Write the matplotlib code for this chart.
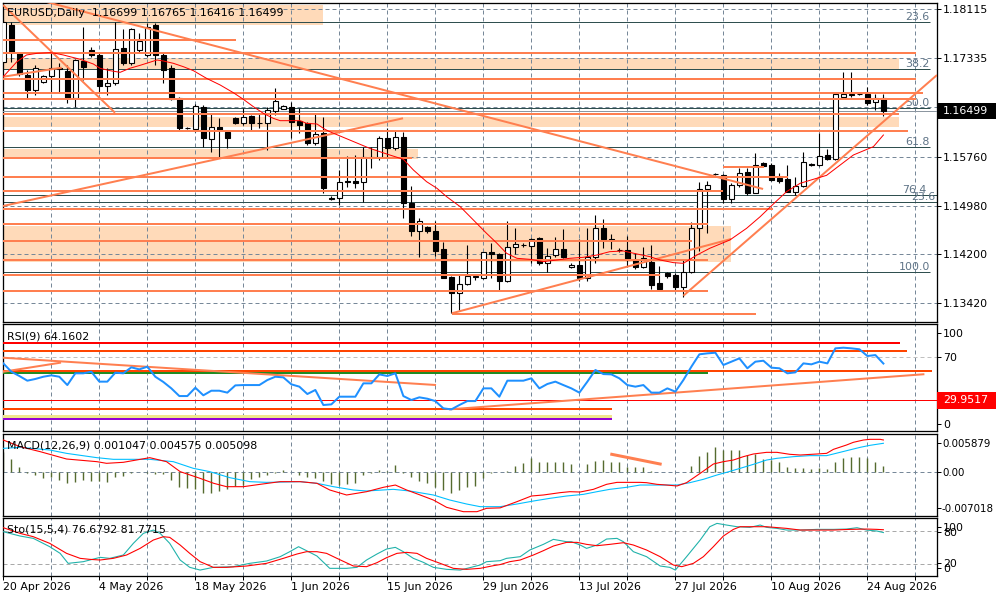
import matplotlib
matplotlib.use("Agg")
import matplotlib.pyplot as plt
import matplotlib.transforms as mtransforms
from matplotlib.patches import Rectangle
import numpy as np

plt.rcParams["font.family"] = ["DejaVu Sans"]
FS = 7.9
PX = 0.72  # one pixel in points at 100 dpi

# ---------------- daily candles ----------------
opens = [
    1.17279, 1.17865, 1.17413, 1.17066, 1.16827, 1.16959, 1.17050, 1.17178, 1.17130, 1.16704,
    1.17295, 1.17466, 1.17386, 1.16895, 1.16934, 1.17493, 1.17253, 1.17466, 1.17386, 1.17865,
    1.17386, 1.17173, 1.16694, 1.16220, 1.16199, 1.16560, 1.16039, 1.16231, 1.16151, 1.16375,
    1.16305, 1.16412, 1.16305, 1.16295, 1.16496, 1.16528, 1.16560, 1.16337, 1.16295, 1.15975,
    1.16135, 1.15097, 1.15097, 1.15378, 1.15373, 1.15353, 1.15757, 1.15757, 1.16055, 1.15896,
    1.16081, 1.15027, 1.14580, 1.14634, 1.14575, 1.14288, 1.13845, 1.13580, 1.13724, 1.13848,
    1.13819, 1.14235, 1.14203, 1.13781, 1.14324, 1.14351, 1.14340, 1.14458, 1.14059, 1.14192,
    1.14283, 1.13995, 1.14032, 1.13819, 1.14165, 1.14618, 1.14442, 1.14272, 1.14272, 1.14112,
    1.13995, 1.14085, 1.13740, 1.13898, 1.13872, 1.13685, 1.13925, 1.14618, 1.15241, 1.15485,
    1.15469, 1.15081, 1.15310, 1.15522, 1.15187, 1.15656, 1.15629, 1.15416, 1.15405, 1.15203,
    1.15294, 1.15645, 1.15629, 1.15789, 1.15720, 1.16720, 1.16747, 1.16758, 1.16758, 1.16630,
    1.16699]
highs = [
    1.17945, 1.17917, 1.17438, 1.17146, 1.17226, 1.17066, 1.17413, 1.17253, 1.17226, 1.17317,
    1.17838, 1.17518, 1.17438, 1.17173, 1.17917, 1.17796, 1.17812, 1.17732, 1.17892, 1.17892,
    1.17413, 1.17226, 1.16720, 1.16231, 1.16598, 1.16587, 1.16455, 1.16375, 1.16188, 1.16400,
    1.16534, 1.16428, 1.16455, 1.16560, 1.16854, 1.16587, 1.16640, 1.16534, 1.16320, 1.16455,
    1.16400, 1.15134, 1.15549, 1.15773, 1.15789, 1.15921, 1.15921, 1.16092, 1.16215, 1.16188,
    1.16161, 1.15294, 1.14778, 1.14655, 1.14735, 1.14404, 1.13856, 1.13872, 1.14351, 1.13872,
    1.14244, 1.14378, 1.14219, 1.14735, 1.14618, 1.14378, 1.14458, 1.14474, 1.14308, 1.14484,
    1.14602, 1.14059, 1.14442, 1.14618, 1.14831, 1.14767, 1.14527, 1.14308, 1.14495, 1.14229,
    1.14324, 1.14351, 1.14016, 1.13925, 1.13909, 1.14112, 1.14723, 1.15362, 1.15378, 1.15500,
    1.15485, 1.15337, 1.15576, 1.15576, 1.15816, 1.15672, 1.15656, 1.15497, 1.15629, 1.15442,
    1.15841, 1.15661, 1.16135, 1.15880, 1.16779, 1.17119, 1.17119, 1.16768, 1.16880, 1.16758,
    1.16765]
lows = [
    1.17258, 1.17279, 1.17050, 1.16694, 1.16747, 1.16934, 1.16774, 1.16800, 1.16614, 1.16550,
    1.16987, 1.17359, 1.16800, 1.16747, 1.16907, 1.17226, 1.17226, 1.17438, 1.17354, 1.17226,
    1.16943, 1.16667, 1.16188, 1.16199, 1.16161, 1.15921, 1.15841, 1.15762, 1.15896, 1.16279,
    1.16268, 1.16188, 1.16215, 1.15869, 1.16428, 1.16518, 1.16055, 1.16135, 1.15948, 1.15948,
    1.15177, 1.15070, 1.14990, 1.15273, 1.15266, 1.15043, 1.15576, 1.15709, 1.15741, 1.15869,
    1.14778, 1.14500, 1.14165, 1.14548, 1.14176, 1.13824, 1.13260, 1.13313, 1.13712, 1.13800,
    1.13813, 1.13819, 1.13633, 1.13754, 1.14203, 1.14324, 1.14059, 1.14032, 1.13925, 1.14155,
    1.14139, 1.13990, 1.13781, 1.13781, 1.14059, 1.14299, 1.14283, 1.14245, 1.14005, 1.13963,
    1.13979, 1.13644, 1.13633, 1.13824, 1.13633, 1.13526, 1.13900, 1.14250, 1.14548, 1.15469,
    1.15017, 1.15017, 1.15273, 1.15150, 1.15177, 1.15592, 1.15378, 1.15337, 1.15193, 1.15150,
    1.15273, 1.15613, 1.15613, 1.15709, 1.15709, 1.16715, 1.16715, 1.16747, 1.16587, 1.16507,
    1.16416]
closes = [
    1.17917, 1.17438, 1.17082, 1.16827, 1.17183, 1.17050, 1.17183, 1.17170, 1.16704, 1.17306,
    1.17189, 1.17386, 1.16891, 1.16934, 1.17477, 1.17253, 1.17796, 1.17609, 1.17838, 1.17386,
    1.17146, 1.16678, 1.16215, 1.16225, 1.16576, 1.16055, 1.16231, 1.16188, 1.16055, 1.16295,
    1.16391, 1.16295, 1.16295, 1.16507, 1.16651, 1.16571, 1.16320, 1.16268, 1.15975, 1.16119,
    1.15257, 1.15081, 1.15353, 1.15362, 1.15346, 1.15762, 1.15741, 1.16055, 1.15896, 1.16081,
    1.15017, 1.14580, 1.14739, 1.14575, 1.14260, 1.13829, 1.13580, 1.13724, 1.13856, 1.13856,
    1.14235, 1.14203, 1.13781, 1.14324, 1.14362, 1.14351, 1.14442, 1.14059, 1.14176, 1.14283,
    1.14155, 1.14032, 1.13819, 1.14165, 1.14618, 1.14442, 1.14431, 1.14272, 1.14112, 1.14005,
    1.14144, 1.13712, 1.13644, 1.13856, 1.13685, 1.13914, 1.14628, 1.15241, 1.15310, 1.15485,
    1.15081, 1.15310, 1.15497, 1.15177, 1.15629, 1.15613, 1.15389, 1.15373, 1.15203, 1.15294,
    1.15682, 1.15629, 1.15773, 1.15720, 1.16758, 1.16758, 1.16758, 1.16758, 1.16614, 1.16699,
    1.16499]

date_labels = ["20 Apr 2026", "4 May 2026", "18 May 2026", "1 Jun 2026", "15 Jun 2026",
               "29 Jun 2026", "13 Jul 2026", "27 Jul 2026", "10 Aug 2026", "24 Aug 2026"]

# moving average on the price chart (bar position, value)
ma_x = [0, 1.7, 2.9, 4.2, 5.8, 6.5, 7.5, 9.6, 11.25, 12.1, 13.3, 14.6, 15.8, 17.1, 18.3, 19.2,
        20, 21.25, 22.5, 23.75, 25.4, 27.1, 28.75, 30, 31.25, 32.5, 33.75, 34.6, 35.8, 37.1,
        37.9, 39.2, 40.2, 40.8, 43.3, 45.8, 48.3, 50, 51.25, 52.9, 54.2, 55.4, 57.1, 58.75,
        60.4, 61.7, 62.9, 64.2, 65.8, 67.5, 69.2, 70.8, 72.5, 74.2, 75.8, 77.5, 79.2, 80.8,
        82.1, 83.75, 85, 86.7, 88.3, 90.8, 92.9, 94.6, 96.25, 97.9, 99.6, 101.25, 102.9,
        104.6, 106.25, 108.75, 110]
ma_y = [1.17040, 1.17279, 1.17386, 1.17412, 1.17423, 1.17412, 1.17386, 1.17317, 1.17242,
        1.17173, 1.17136, 1.17109, 1.17173, 1.17221, 1.17269, 1.17306, 1.17290, 1.17253,
        1.17199, 1.17136, 1.17013, 1.16907, 1.16784, 1.16678, 1.16561, 1.16454, 1.16374,
        1.16337, 1.16337, 1.16337, 1.16294, 1.16284, 1.16199, 1.16161, 1.16028, 1.15895,
        1.15789, 1.15720, 1.15550, 1.15363, 1.15257, 1.15124, 1.14964, 1.14751, 1.14538,
        1.14379, 1.14219, 1.14139, 1.14123, 1.14086, 1.14112, 1.14139, 1.14155, 1.14192,
        1.14245, 1.14256, 1.14208, 1.14166, 1.14112, 1.14070, 1.14059, 1.14192, 1.14299,
        1.14431, 1.14618, 1.14804, 1.15007, 1.15204, 1.15337, 1.15401, 1.15464, 1.15629,
        1.15789, 1.15922, 1.16108]

# drawn objects on the price chart
hl_price = [1.17625, 1.17422, 1.17002, 1.16784, 1.16678, 1.16439, 1.16177, 1.15736, 1.15602,
            1.15442, 1.15218, 1.14931, 1.14692, 1.14420, 1.14117, 1.13877, 1.13621, 1.13250]
hl_start = [-1, -1, -1, -1, -1, -1, -1, -1, 90.0, -1, -1, -1, -1, -1, -1, -1, -1, 56.05]
hl_end = [29.1, 114.05, 114.05, 114.96, 114.05, 111.96, 113.05, 51.1, 95.1,
          98.05, 90.0, 96.2, 88.05, 86.05, 88.05, 82.1, 88.05, 94.05]

zone_top = [1.18184, 1.17333, 1.16391, 1.15884, 1.14660]
zone_bottom = [1.17865, 1.17157, 1.16241, 1.15725, 1.14085]
zone_end = [40.0, 111.96, 111.96, 51.8, 90.96]

tl_x0 = [4.0, -0.04, -0.04, 0.0, 56.05, 85.0]
tl_y0 = [1.18279, 1.18184, 1.14974, 1.17039, 1.13261, 1.13542]
tl_x1 = [94.96, 13.96, 49.96, 7.3, 90.96, 116.7]
tl_y1 = [1.15246, 1.16464, 1.16375, 1.17183, 1.14447, 1.17066]

fib_price = [1.17917, 1.17157, 1.16544, 1.15912, 1.15150, 1.15033, 1.13915]
fib_label = ["23.6", "38.2", "50.0", "61.8", "76.4", "23.6", "100.0"]
fib_end = [115.8, 115.8, 115.8, 115.8, 116.7, 116.7, 115.8]
fib_label_x = [115.8, 115.8, 115.8, 115.8, 115.4, 116.5, 115.8]

price_ticks = [1.18115, 1.17335, 1.15760, 1.14980, 1.14200, 1.13420]
price_grid = [1.18115, 1.17335, 1.16548, 1.15760, 1.14980, 1.14200, 1.13420]
bid = 1.16499

# ---------------- RSI(9) ----------------
rsi = [64.3, 56.5, 52.5, 48.1, 49.7, 51.8, 53.1, 51.8, 44.0, 55.0,
       55.0, 56.5, 47.2, 47.2, 55.6, 55.0, 60.6, 58.7, 61.2, 51.8,
       46.9, 40.9, 33.7, 33.7, 41.5, 34.4, 38.7, 38.7, 36.9, 43.7,
       44.0, 44.0, 44.0, 48.7, 51.8, 51.2, 44.7, 42.5, 35.6, 39.4,
       25.3, 25.9, 33.1, 33.1, 33.1, 45.6, 45.6, 54.0, 52.5, 55.0,
       33.7, 30.0, 32.5, 31.2, 29.0, 22.2, 21.2, 25.3, 29.0, 29.0,
       40.9, 40.9, 33.1, 48.1, 48.1, 48.1, 50.3, 40.9, 45.0, 47.2,
       44.0, 40.9, 36.9, 47.2, 58.1, 54.3, 54.0, 50.3, 44.0, 42.5,
       44.0, 36.9, 36.9, 40.9, 37.8, 48.7, 61.2, 72.8, 73.7, 74.3,
       62.8, 65.9, 69.0, 59.7, 65.9, 66.8, 60.3, 59.7, 55.0, 55.9,
       64.3, 63.4, 65.9, 64.3, 78.4, 79.0, 78.4, 77.5, 71.2, 72.1,
       64.1602]
rsi_lvl = [83.7, 76.2, 57.4, 55.0, 29.9517, 21.3, 14.4, 11.9]
rsi_lvl_end = [112.1, 113.0, 116.05, 88.05, 117.0, 76.05, 76.05, 76.05]
rsi_lvl_color = ["#FF0000", "#FF4500", "#FF4500", "#228B22", "#FF0000", "#FF4500", "#F0E68C", "#9400D3"]
rsi_lvl_px = [2, 2, 2, 2, 1, 2, 4, 2]
rtl_x0 = [0.0, 0.0, 55.84]
rtl_y0 = [69.6, 56.5, 21.3]
rtl_x1 = [53.96, 7.09, 115.0]
rtl_y1 = [44.1, 64.9, 54.1]

# ---------------- MACD(12,26,9) ----------------
macd_hist = [
    0.00326, 0.00210, 0.00089, -0.00016, -0.00042, -0.00095, -0.00079, -0.00121, -0.00173, -0.00147,
    -0.00121, -0.00131, -0.00131, -0.00147, -0.00068, -0.00058, -0.00010, 0.00010, -0.00010, -0.00026,
    -0.00026, -0.00121, -0.00236, -0.00252, -0.00268, -0.00320, -0.00320, -0.00289, -0.00268, -0.00215,
    -0.00200, -0.00110, -0.00068, -0.00042, -0.00016, 0.00037, 0.00000, -0.00042, -0.00068, -0.00095,
    -0.00131, -0.00189, -0.00200, -0.00189, -0.00163, -0.00042, -0.00016, 0.00037, 0.00026, 0.00116,
    -0.00005, -0.00068, -0.00131, -0.00163, -0.00226, -0.00278, -0.00320, -0.00278, -0.00226, -0.00215,
    -0.00095, -0.00016, 0.00000, 0.00026, 0.00100, 0.00152, 0.00221, 0.00168, 0.00168, 0.00168,
    0.00168, 0.00131, 0.00005, 0.00126, 0.00179, 0.00194, 0.00168, 0.00168, 0.00089, 0.00089,
    0.00089, 0.00021, 0.00000, 0.00000, 0.00000, 0.00000, 0.00105, 0.00257, 0.00326, 0.00394,
    0.00352, 0.00352, 0.00352, 0.00273, 0.00289, 0.00205, 0.00194, 0.00168, 0.00079, 0.00063,
    0.00063, 0.00047, 0.00063, 0.00053, 0.00158, 0.00221, 0.00247, 0.00247, 0.00221, 0.00158,
    0.001047]
macd_red_x = [0, 2.1, 4.6, 7.9, 11.7, 12.9, 15, 18.3, 20.4, 22.1, 24.6, 26.3, 27.9, 30, 32.1,
              34.6, 37.1, 39.2, 40.8, 42.9, 45.4, 47.5, 49, 50.4, 52.1, 53.75, 55.4, 57.5, 59.2,
              60.4, 62.1, 64.2, 66.0, 67.5, 69.6, 70.8, 72.1, 73.75, 75.4, 76.7, 77.9, 79.6, 80.4,
              81.7, 82.9, 84.2, 85.4, 87.1, 88.75, 90, 91.25, 92.5, 93.75, 95.4, 96.7, 98.3, 99.6,
              101.7, 102.9, 103.75, 105.4, 106.25, 107.5, 108.3, 109.6, 110]
macd_red_y = [0.00509, 0.00404, 0.00326, 0.00210, 0.00168, 0.00142, 0.00158, 0.00231, 0.00168,
              0.00011, -0.00095, -0.00173, -0.00226, -0.00226, -0.00189, -0.00147, -0.00147,
              -0.00173, -0.00278, -0.00357, -0.00305, -0.00236, -0.00200, -0.00278, -0.00357,
              -0.00436, -0.00551, -0.00620, -0.00620, -0.00567, -0.00560, -0.00462, -0.00373,
              -0.00357, -0.00320, -0.00305, -0.00310, -0.00268, -0.00189, -0.00158, -0.00158,
              -0.00158, -0.00163, -0.00189, -0.00200, -0.00215, -0.00163, -0.00016, 0.00131,
              0.00168, 0.00194, 0.00247, 0.00289, 0.00315, 0.00315, 0.00284, 0.00273, 0.00289,
              0.00299, 0.00362, 0.00431, 0.00473, 0.00509, 0.00520, 0.00520, 0.005098]
macd_blue_x = [0, 2.1, 5.8, 7.9, 11.7, 13.75, 18.3, 21.25, 23.75, 25.8, 28.3, 30.8, 32.9, 37.1,
               39.2, 41.25, 43.75, 45.4, 48.75, 50.8, 53.75, 55.8, 57.9, 59.6, 62.1, 64.2, 66.25,
               68.3, 70.4, 72.5, 74.2, 75.8, 77.9, 79.6, 81.7, 84.2, 85.8, 87.5, 89.2, 90.4, 92.1,
               93.75, 95.4, 96.7, 98.75, 100.8, 102.9, 103.75, 105.4, 107.1, 108.3, 110]
macd_blue_y = [0.00378, 0.00394, 0.00352, 0.00299, 0.00231, 0.00205, 0.00205, 0.00168, 0.00063,
               0.00011, -0.00084, -0.00147, -0.00158, -0.00147, -0.00173, -0.00226, -0.00278,
               -0.00294, -0.00268, -0.00294, -0.00357, -0.00436, -0.00499, -0.00541, -0.00541,
               -0.00499, -0.00452, -0.00410, -0.00373, -0.00347, -0.00305, -0.00268, -0.00236,
               -0.00200, -0.00200, -0.00200, -0.00163, -0.00110, -0.00042, 0.00000, 0.00063,
               0.00126, 0.00194, 0.00221, 0.00247, 0.00263, 0.00263, 0.00289, 0.00341, 0.00394,
               0.00425, 0.004575]
macd_tl_x = [76.05, 82.1]
macd_tl_y = [0.00284, 0.00131]

# ---------------- Stochastic(15,5,4) ----------------
sto_main_x = [0, 2.1, 3.75, 5.8, 7.1, 8.1, 10, 12.1, 13.3, 15, 16.25, 17.5, 18.75, 19.6, 20.8,
              22.1, 23.3, 24.6, 26.25, 28.75, 30.8, 32.9, 34.6, 35.8, 36.9, 37.9, 39.2, 40.8,
              42.9, 44.2, 45.4, 46.7, 47.9, 49, 50, 51.25, 52.5, 53.75, 55.4, 57.1, 58.3, 59.6,
              60.4, 62.1, 62.9, 64.6, 65.8, 67.5, 68.75, 70.4, 71, 72.1, 72.9, 74.2, 75.4, 76.7,
              77.5, 78.75, 80.4, 82.1, 83.3, 84.0, 85.4, 87.1, 88.3, 89.2, 90.4, 91.7, 93.3,
              94.6, 95.4, 96.7, 97.9, 99.6, 101.7, 103.75, 105.4, 106.7, 107.9, 109.2, 110]
sto_main_y = [78.2, 70.4, 66.2, 51.2, 39.2, 21.2, 24.2, 32.0, 30.2, 36.2, 57.2, 75.2, 81.2,
              75.2, 57.2, 27.2, 14.0, 9.1, 14.0, 15.2, 21.2, 25.4, 33.2, 42.2, 51.2, 44.0, 34.4,
              12.2, 12.2, 14.0, 27.2, 38.0, 47.0, 50.0, 42.2, 30.2, 23.0, 14.0, 10.4, 9.1, 13.4,
              18.2, 24.2, 26.0, 30.2, 33.2, 45.2, 55.4, 64.4, 60.2, 60.2, 54.2, 48.2, 54.2, 65.0,
              66.2, 60.2, 42.2, 33.2, 16.4, 14.0, 9.1, 33.2, 63.2, 87.2, 93.2, 90.2, 87.2, 86.0,
              90.2, 86.0, 84.2, 81.2, 81.2, 82.4, 82.4, 83.0, 85.4, 81.2, 79.4, 76.6792]
sto_sig_x = [0, 2.1, 3.75, 5.8, 7.9, 9.6, 10.8, 12.1, 13.75, 15.4, 17.1, 18.75, 20, 20.8, 22.1,
             23.3, 24.6, 26.25, 27.9, 30.4, 32.9, 35, 36.7, 37.9, 39.2, 40.4, 41.7, 43.75, 45.4,
             46.7, 47.9, 49.2, 50.4, 51.7, 52.9, 54.6, 56.25, 57.9, 59.6, 61.25, 62.1, 63.3,
             64.6, 66.25, 67.5, 68.75, 70.4, 71.7, 72.9, 74.2, 75.8, 77.5, 78.75, 80.4, 82.1,
             83.75, 84.8, 86.25, 87.5, 88.75, 90, 91.25, 92.1, 93.75, 95.4, 97.9, 99.6, 101.7,
             103.75, 105.8, 107.9, 109.2, 110]
sto_sig_y = [85.4, 75.2, 69.2, 57.2, 39.2, 30.2, 28.4, 27.2, 30.2, 36.2, 48.2, 63.2, 69.2, 68.0,
             54.2, 39.2, 24.2, 14.0, 14.0, 16.4, 21.2, 30.2, 38.0, 42.2, 42.2, 39.2, 30.2, 16.4,
             15.2, 22.4, 31.4, 39.2, 41.0, 39.2, 30.2, 21.2, 12.2, 10.4, 12.2, 17.0, 19.0, 24.2,
             27.2, 36.2, 44.0, 52.4, 59.0, 59.0, 55.4, 53.0, 55.4, 58.4, 54.2, 45.2, 33.2, 18.2,
             15.2, 21.2, 33.2, 51.2, 70.4, 82.4, 87.2, 87.2, 87.2, 84.2, 81.2, 81.2, 81.2, 82.4,
             83.0, 82.4, 81.7715]

# ---------------- layout helpers ----------------
fig = plt.figure(figsize=(10, 6), dpi=100)
fig.patch.set_facecolor("white")

XMIN, XMAX = -0.04, 116.7
GRID = "#778899"
CORAL = "#FF7F50"
PEACH = "#FFDAB9"
SLATE = "#2F4F4F"


def panel(top, bottom):
    ax = fig.add_axes([3 / 1000, 1 - bottom / 600, 934 / 1000, (bottom - top) / 600])
    ax.set_xlim(XMIN, XMAX)
    for s in ax.spines.values():
        s.set_linewidth(PX * 1.3)
        s.set_color("black")
    ax.yaxis.tick_right()
    ax.tick_params(axis="y", length=4 * PX, width=PX, pad=2 * PX, labelsize=FS, colors="black")
    ax.tick_params(axis="x", length=0, labelbottom=False)
    for k in range(1, 20):
        ax.axvline(6 * k, color=GRID, lw=PX, ls=(0, (4, 3)), zorder=1)
    return ax


def fig_text(x, y, s, **kw):
    fig.text(x / 1000, 1 - y / 600, s, fontsize=FS, va="center", ha="left", **kw)


x = np.arange(len(closes))
o = np.array(opens)
c = np.array(closes)

# ---------------- price chart ----------------
ax = panel(3, 322)
ax.set_ylim(1.13122, 1.18216)
for p in price_grid:
    ax.axhline(p, color=GRID, lw=PX, ls=(0, (4, 3)), zorder=1)
for t, b, e in zip(zone_top, zone_bottom, zone_end):
    ax.add_patch(Rectangle((XMIN - 1, b), e - XMIN + 1, t - b, facecolor=PEACH,
                           edgecolor="none", zorder=0.5))
for p, e in zip(fib_price, fib_end):
    ax.hlines(p, XMIN - 1, e, color=SLATE, lw=PX, zorder=2)
for p, lab, lx in zip(fib_price, fib_label, fib_label_x):
    ax.text(lx, p + 0.00030, lab, ha="right", va="baseline", fontsize=FS, color="#5E7386", zorder=3)
ax.axhline(bid, color="#8C96A0", lw=PX, zorder=3)

ax.vlines(x, lows, highs, color="black", lw=PX * 1.1, zorder=4)
ax.bar(x, np.abs(c - o), bottom=np.minimum(o, c), width=0.62,
       color=np.where(c >= o, "white", "black"), edgecolor="black", linewidth=PX * 1.1, zorder=5)
ax.plot(ma_x, ma_y, color="#FF0000", lw=PX, zorder=7)

for p, s, e in zip(hl_price, hl_start, hl_end):
    ax.hlines(p, s, e, color=CORAL, lw=2 * PX, zorder=6)
for x0, y0, x1, y1 in zip(tl_x0, tl_y0, tl_x1, tl_y1):
    ax.plot([x0, x1], [y0, y1], color=CORAL, lw=2 * PX, zorder=6, solid_capstyle="butt")

ax.set_yticks(price_ticks)
ax.set_yticklabels([f"{p:.5f}" for p in price_ticks])
blend = mtransforms.blended_transform_factory(ax.transAxes, ax.transData)
ax.add_patch(Rectangle((1.0, bid - 0.00128), 0.0632, 0.00256, transform=blend,
                       facecolor="black", edgecolor="none", clip_on=False, zorder=10))
ax.text(1.0064, bid, f"{bid:.5f}", transform=blend, color="white", fontsize=FS,
        va="center", ha="left", clip_on=False, zorder=11)
fig_text(7, 13, f"EURUSD,Daily  {opens[-1]:.5f} {highs[-1]:.5f} {lows[-1]:.5f} {closes[-1]:.5f}")

# ---------------- RSI ----------------
ar = panel(324, 431)
ar.set_ylim(0.96, 101.2)
ar.axhline(70, color="#C0C0C0", lw=PX, ls=(0, (4, 3)), zorder=1)
for v, e, col, w in zip(rsi_lvl, rsi_lvl_end, rsi_lvl_color, rsi_lvl_px):
    ar.hlines(v, XMIN - 1, e, color=col, lw=w * PX, zorder=3)
for x0, y0, x1, y1 in zip(rtl_x0, rtl_y0, rtl_x1, rtl_y1):
    ar.plot([x0, x1], [y0, y1], color=CORAL, lw=2 * PX, zorder=4)
ar.plot(x, rsi, color="#1E90FF", lw=2 * PX, zorder=5)
ar.set_yticks([92.5, 70, 7.5])
ar.set_yticklabels(["100", "70", "0"])
rblend = mtransforms.blended_transform_factory(ar.transAxes, ar.transData)
ar.add_patch(Rectangle((1.0, rsi_lvl[4] - 8.0), 0.0632, 16.0, transform=rblend,
                       facecolor="#FF0000", edgecolor="none", clip_on=False, zorder=10))
ar.text(1.0064, rsi_lvl[4], f"{rsi_lvl[4]:.4f}", transform=rblend, color="white", fontsize=FS,
        va="center", ha="left", clip_on=False, zorder=11)
fig_text(7, 336, f"RSI(9) {rsi[-1]:.4f}")

# ---------------- MACD ----------------
am = panel(434, 516)
am.set_ylim(-0.00688, 0.00604)
am.axhline(0, color=GRID, lw=PX, ls=(0, (4, 3)), zorder=1)
am.vlines(x, 0, macd_hist, color="#556B2F", lw=1.4 * PX, zorder=2)
am.plot(macd_tl_x, macd_tl_y, color=CORAL, lw=3 * PX, zorder=3)
am.plot(macd_blue_x, macd_blue_y, color="#00BFFF", lw=PX * 1.1, zorder=4)
am.plot(macd_red_x, macd_red_y, color="#FF0000", lw=PX * 1.1, zorder=5)
am.set_yticks([0.00457, 0.0, -0.00567])
am.set_yticklabels(["0.005879", "0.00", "-0.007018"])
am.tick_params(axis="y", pad=1 * PX, labelsize=7.4)
fig_text(7, 445, f"MACD(12,26,9) {macd_hist[-1]:.6f} {macd_blue_y[-1]:.6f} {macd_red_y[-1]:.6f}")

# ---------------- Stochastic ----------------
asto = panel(518, 576)
asto.set_ylim(-1.6, 102.9)
for lv in (80, 20):
    asto.axhline(lv, color="#A9A9A9", lw=PX, ls=(0, (4, 3)), zorder=1)
asto.plot(sto_main_x, sto_main_y, color="#20B2AA", lw=PX * 1.1, zorder=3)
asto.plot(sto_sig_x, sto_sig_y, color="#FF0000", lw=PX * 1.1, zorder=4)
asto.set_yticks([87.5, 78.5, 22.0, 12.5])
asto.set_yticklabels(["100", "80", "20", "0"])
fig_text(7, 529, f"Sto(15,5,4) {sto_main_y[-1]:.4f} {sto_sig_y[-1]:.4f}")

grid_ticks = np.arange(0, 115, 6)
asto.set_xticks(grid_ticks)
asto.set_xticklabels([date_labels[k // 2] if k % 2 == 0 else "" for k in range(len(grid_ticks))])
asto.tick_params(axis="x", length=4 * PX, width=PX, pad=2 * PX, labelsize=FS, labelbottom=True)
for lbl in asto.get_xticklabels():
    lbl.set_horizontalalignment("left")

fig.savefig("out.png", dpi=100)
